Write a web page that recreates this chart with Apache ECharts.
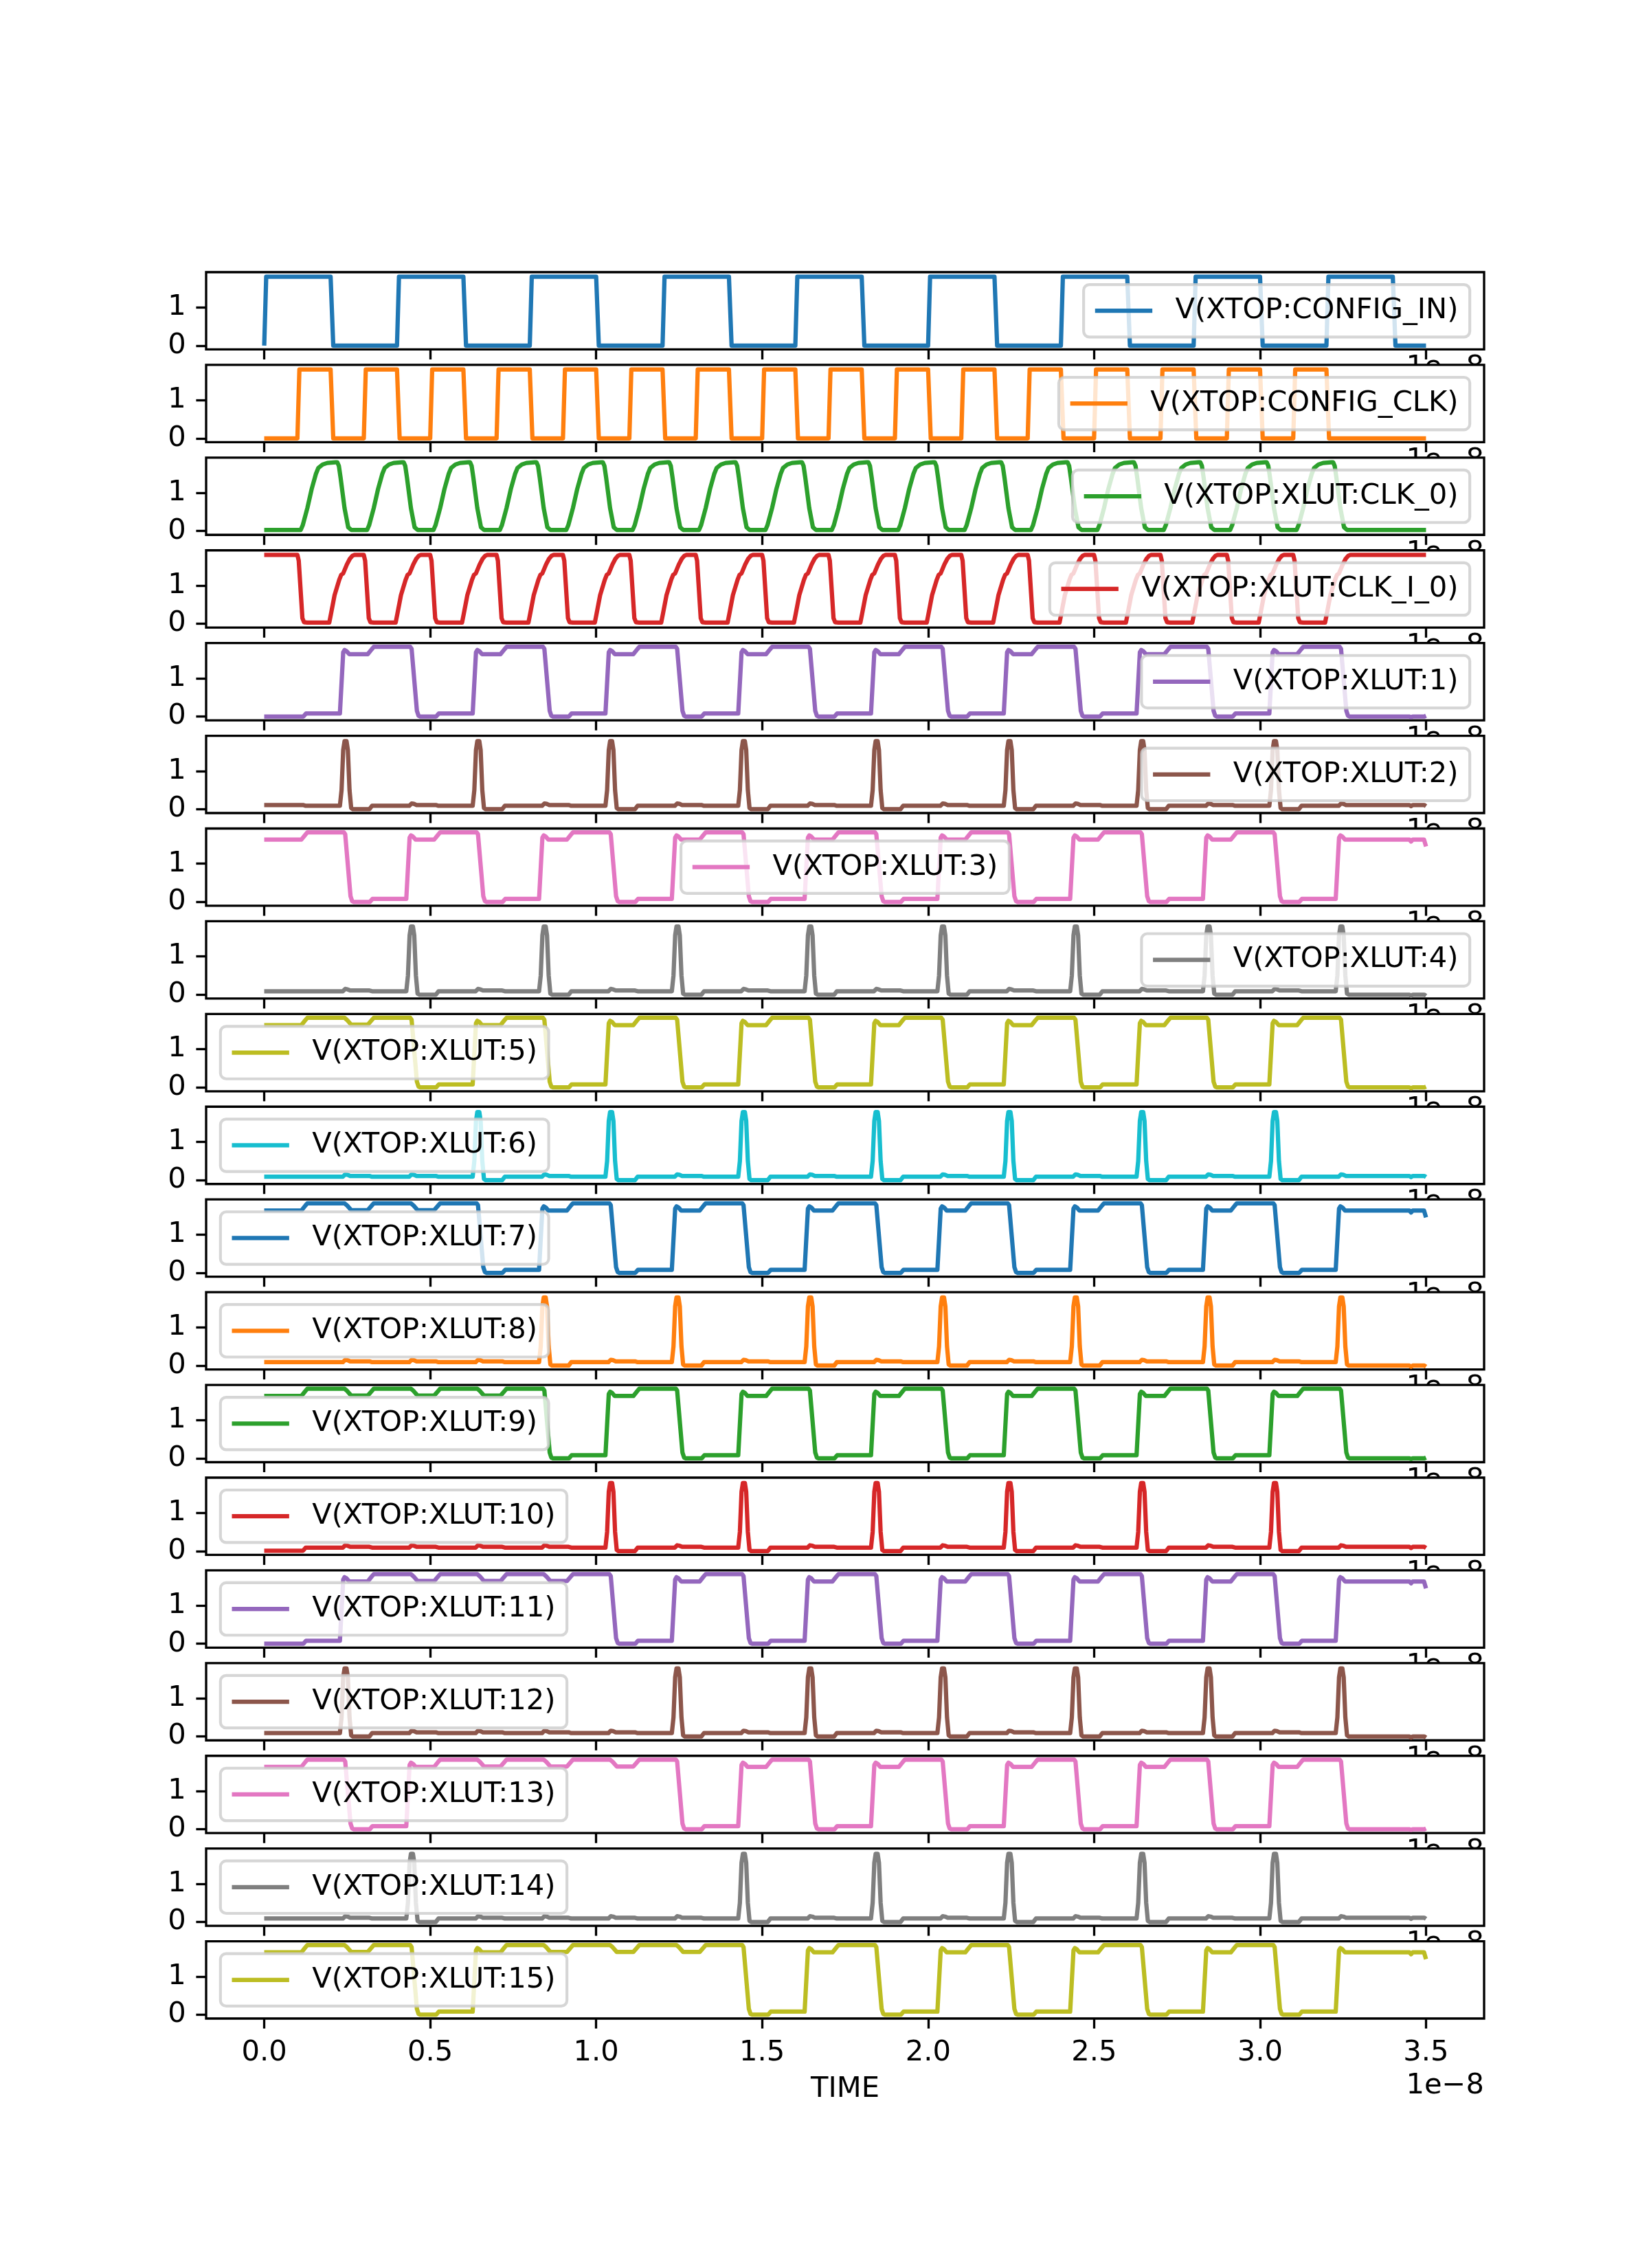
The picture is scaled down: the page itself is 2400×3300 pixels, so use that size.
<!DOCTYPE html>
<html><head><meta charset="utf-8">
<script src="https://cdn.jsdelivr.net/npm/echarts@6/dist/echarts.min.js"></script>
<style>html,body{margin:0;padding:0;background:#fff}#c{width:2400px;height:3300px}</style>
</head><body><div id="c"></div>
<script>
// ---------------- data (times in ns; axis shows units of 1e-8 s) ----------------
const T_END = 35;
const X_TICKS = [0, 5, 10, 15, 20, 25, 30, 35];
const Y_TICKS = [0, 1];
const NAMES = ['V(XTOP:CONFIG_IN)', 'V(XTOP:CONFIG_CLK)', 'V(XTOP:XLUT:CLK_0)', 'V(XTOP:XLUT:CLK_I_0)',
  'V(XTOP:XLUT:1)', 'V(XTOP:XLUT:2)', 'V(XTOP:XLUT:3)', 'V(XTOP:XLUT:4)', 'V(XTOP:XLUT:5)',
  'V(XTOP:XLUT:6)', 'V(XTOP:XLUT:7)', 'V(XTOP:XLUT:8)', 'V(XTOP:XLUT:9)', 'V(XTOP:XLUT:10)',
  'V(XTOP:XLUT:11)', 'V(XTOP:XLUT:12)', 'V(XTOP:XLUT:13)', 'V(XTOP:XLUT:14)', 'V(XTOP:XLUT:15)'];
const COLORS = ['#1f77b4', '#ff7f0e', '#2ca02c', '#d62728', '#9467bd', '#8c564b', '#e377c2', '#7f7f7f',
  '#bcbd22', '#17becf', '#1f77b4', '#ff7f0e', '#2ca02c', '#d62728', '#9467bd', '#8c564b', '#e377c2',
  '#7f7f7f', '#bcbd22'];
const LEGEND_LOC = ['cr', 'cr', 'cr', 'cr', 'cr', 'cr', 'c', 'cr', 'cl', 'cl', 'cl', 'cl', 'cl', 'cl',
  'cl', 'cl', 'cl', 'cl', 'cl'];

// digital sources
const CONFIG_IN_RISE = [0, 4, 8, 12, 16, 20, 24, 28, 32];
const CONFIG_IN_FALL = [2, 6, 10, 14, 18, 22, 26, 30, 34];
const CONFIG_CLK_RISE = [1, 3, 5, 7, 9, 11, 13, 15, 17, 19, 21, 23, 25, 27, 29, 31];
const CONFIG_CLK_FALL = [2, 4, 6, 8, 10, 12, 14, 16, 18, 20, 22, 24, 26, 28, 30, 32];
// buffered clocks
const CLK0_RISE = [1.1, 3.1, 5.1, 7.1, 9.1, 11.1, 13.1, 15.1, 17.1, 19.1, 21.1, 23.1, 25.1, 27.1, 29.1, 31.1];
const CLK0_FALL = [2.2, 4.2, 6.2, 8.2, 10.2, 12.2, 14.2, 16.2, 18.2, 20.2, 22.2, 24.2, 26.2, 28.2, 30.2, 32.2];
const CLKI0_FALL = [1, 3, 5, 7, 9, 11, 13, 15, 17, 19, 21, 23, 25, 27, 29, 31];
const CLKI0_RISE = [1.96, 3.96, 5.96, 7.96, 9.96, 11.96, 13.96, 15.96, 17.96, 19.96, 21.96, 23.96, 25.96, 27.96, 29.96, 31.96];
// settle steps and clock events seen on the LUT nodes
const STEP_TIMES = [1.2, 3.2, 5.2, 7.2, 9.2, 11.2, 13.2, 15.2, 17.2, 19.2, 21.2, 23.2, 25.2, 27.2, 29.2, 31.2];
const CLOCK_EVENTS = [2.42, 4.42, 6.42, 8.42, 10.42, 12.42, 14.42, 16.42, 18.42, 20.42, 22.42, 24.42, 26.42, 28.42, 30.42, 32.42];

// odd LUT nodes: initial state, rising edges, falling edges, dips (re-clocked while high)
const LUT1 = { init: 'L', rise: [2.28, 6.28, 10.28, 14.28, 18.28, 22.28, 26.28, 30.28], fall: [4.4, 8.4, 12.4, 16.4, 20.4, 24.4, 28.4, 32.4], dip: [] };
const LUT3 = { init: 'H', rise: [4.28, 8.28, 12.28, 16.28, 20.28, 24.28, 28.28, 32.28], fall: [2.4, 6.4, 10.4, 14.4, 18.4, 22.4, 26.4, 30.4], dip: [] };
const LUT5 = { init: 'H', rise: [6.28, 10.28, 14.28, 18.28, 22.28, 26.28, 30.28], fall: [4.4, 8.4, 12.4, 16.4, 20.4, 24.4, 28.4, 32.4], dip: [2.42] };
const LUT7 = { init: 'H', rise: [8.28, 12.28, 16.28, 20.28, 24.28, 28.28, 32.28], fall: [6.4, 10.4, 14.4, 18.4, 22.4, 26.4, 30.4], dip: [2.42, 4.42] };
const LUT9 = { init: 'H', rise: [10.28, 14.28, 18.28, 22.28, 26.28, 30.28], fall: [8.4, 12.4, 16.4, 20.4, 24.4, 28.4, 32.4], dip: [2.42, 4.42, 6.42] };
const LUT11 = { init: 'L', rise: [2.28, 12.28, 16.28, 20.28, 24.28, 28.28, 32.28], fall: [10.4, 14.4, 18.4, 22.4, 26.4, 30.4], dip: [4.42, 6.42, 8.42] };
const LUT13 = { init: 'H', rise: [4.28, 14.28, 18.28, 22.28, 26.28, 30.28], fall: [2.4, 12.4, 16.4, 20.4, 24.4, 28.4, 32.4], dip: [6.42, 8.42, 10.42] };
const LUT15 = { init: 'H', rise: [6.28, 16.28, 20.28, 24.28, 28.28, 32.28], fall: [4.4, 14.4, 18.4, 22.4, 26.4, 30.4], dip: [2.42, 8.42, 10.42, 12.42] };
// even LUT nodes: initial level and spike peak times
const LUT2 = { init: 0.11, spikes: [2.45, 6.45, 10.45, 14.45, 18.45, 22.45, 26.45, 30.45] };
const LUT4 = { init: 0.09, spikes: [4.45, 8.45, 12.45, 16.45, 20.45, 24.45, 28.45, 32.45] };
const LUT6 = { init: 0.09, spikes: [6.45, 10.45, 14.45, 18.45, 22.45, 26.45, 30.45] };
const LUT8 = { init: 0.09, spikes: [8.45, 12.45, 16.45, 20.45, 24.45, 28.45, 32.45] };
const LUT10 = { init: 0.01, spikes: [10.45, 14.45, 18.45, 22.45, 26.45, 30.45] };
const LUT12 = { init: 0.09, spikes: [2.45, 12.45, 16.45, 20.45, 24.45, 28.45, 32.45] };
const LUT14 = { init: 0.09, spikes: [4.45, 14.45, 18.45, 22.45, 26.45, 30.45] };

// waveform shapes: [offset ns, volts] (null = keep current level)
const DIG_RISE = [[0, null], [0.06, 1.8]];
const DIG_FALL = [[0, null], [0.08, 0]];
const CLK0_RISE_SHAPE = [[0, null], [0.06, 0.15], [0.2, 0.6], [0.33, 1.1], [0.46, 1.5], [0.53, 1.65], [0.66, 1.74], [0.8, 1.78], [1.05, 1.8]];
const CLK0_FALL_SHAPE = [[0, null], [0.05, 1.7], [0.1, 1.4], [0.22, 0.6], [0.33, 0.1], [0.42, 0.03]];
const CLKI0_FALL_SHAPE = [[0, null], [0.04, 1.65], [0.15, 0.15], [0.2, 0.04], [0.3, 0.03]];
const CLKI0_RISE_SHAPE = [[0, null], [0.05, 0.25], [0.16, 0.75], [0.3, 1.15], [0.36, 1.28], [0.42, 1.32], [0.53, 1.55], [0.62, 1.7], [0.7, 1.78], [0.76, 1.8]];
const REG_RISE = [[0, null], [0.1, 1.68], [0.14, 1.74], [0.2, 1.71], [0.28, 1.63]];
const REG_FALL = [[0, null], [0.04, 1.77], [0.2, 0.15], [0.25, 0.02], [0.3, 0.0]];
const REG_DIP = [[0, null], [0.08, 1.76], [0.2, 1.64]];
const HIGH_STEP = [[-0.08, null], [0.04, 1.76], [0.1, 1.82]];
const LOW_STEP = [[-0.02, null], [0.06, 0.08]];
const SPIKE_SHAPE = [[-0.17, null], [-0.12, 0.5], [-0.07, 1.55], [-0.03, 1.78], [0.03, 1.78], [0.07, 1.55], [0.12, 0.5], [0.17, 0.03], [0.22, 0.0]];
const BUMP_SHAPE = [[-0.05, null], [0.02, 0.15], [0.09, 0.14], [0.17, 0.11]];
const BASE_STEP = [[-0.03, null], [0.05, 0.09]];
const HIGH_TAIL = [[34.5, 0], [34.55, -0.05], [34.6, 0], [34.94, 0], [35, -0.18]];
const LOW_TAIL = [[34.5, 0], [34.55, -0.02], [34.6, 0], [34.95, 0], [35, 0.02]];
const BASE_TAIL = [[34.5, 0], [34.55, -0.03], [34.6, 0], [34.95, 0], [35, -0.03]];

// ---------------- builders ----------------
function buildFromEvents(v0, events, tail) {
  events.sort((a, b) => a[0] - b[0]);
  let cur = v0;
  const pts = [[0, v0]];
  for (const [t, shape] of events) {
    for (const [dt, v] of shape) {
      const val = v === null ? cur : v;
      pts.push([+(t + dt).toFixed(4), val]);
      cur = val;
    }
  }
  if (tail) {
    const base = cur;
    for (const [t, d] of tail) pts.push([t, +(base + d).toFixed(4)]);
  } else {
    pts.push([T_END, cur]);
  }
  return pts;
}
function buildEdges(v0, rises, riseShape, falls, fallShape) {
  const ev = [];
  rises.forEach(t => ev.push([t, riseShape]));
  falls.forEach(t => ev.push([t, fallShape]));
  return buildFromEvents(v0, ev, null);
}
function buildRegister(r) {
  const ev = [];
  r.rise.forEach(t => ev.push([t, 'R']));
  r.fall.forEach(t => ev.push([t, 'F']));
  r.dip.forEach(t => ev.push([t, 'D']));
  STEP_TIMES.forEach(t => ev.push([t, 'S']));
  ev.sort((a, b) => a[0] - b[0]);
  let high = r.init === 'H';
  const shaped = [];
  for (const [t, k] of ev) {
    if (k === 'R') { shaped.push([t, REG_RISE]); high = true; }
    else if (k === 'F') { shaped.push([t, REG_FALL]); high = false; }
    else if (k === 'D') shaped.push([t, REG_DIP]);
    else shaped.push([t, high ? HIGH_STEP : LOW_STEP]);
  }
  return buildFromEvents(r.init === 'H' ? 1.63 : 0.0, shaped, high ? HIGH_TAIL : LOW_TAIL);
}
function buildSpikes(s) {
  const ev = [];
  s.spikes.forEach(t => ev.push([t, SPIKE_SHAPE]));
  CLOCK_EVENTS.forEach(t => { if (!s.spikes.some(p => Math.abs(p - t) < 0.2)) ev.push([t, BUMP_SHAPE]); });
  STEP_TIMES.forEach(t => ev.push([t, BASE_STEP]));
  return buildFromEvents(s.init, ev, BASE_TAIL);
}

const DATA = [
  buildEdges(0, CONFIG_IN_RISE, DIG_RISE, CONFIG_IN_FALL, DIG_FALL),
  buildEdges(0, CONFIG_CLK_RISE, DIG_RISE, CONFIG_CLK_FALL, DIG_FALL),
  buildEdges(0.03, CLK0_RISE, CLK0_RISE_SHAPE, CLK0_FALL, CLK0_FALL_SHAPE),
  buildEdges(1.8, CLKI0_RISE, CLKI0_RISE_SHAPE, CLKI0_FALL, CLKI0_FALL_SHAPE),
  buildRegister(LUT1), buildSpikes(LUT2), buildRegister(LUT3), buildSpikes(LUT4),
  buildRegister(LUT5), buildSpikes(LUT6), buildRegister(LUT7), buildSpikes(LUT8),
  buildRegister(LUT9), buildSpikes(LUT10), buildRegister(LUT11), buildSpikes(LUT12),
  buildRegister(LUT13), buildSpikes(LUT14), buildRegister(LUT15)
];

// ---------------- layout (matplotlib figure 8x11 in @300dpi) ----------------
const FS = 41.67, LW_AX = 3.33, TICK = 14.58, PAD = 14.58;
const AX_L = 300, AX_W = 1860, AX_TOP = 396, AX_H = 112.43, AX_GAP = 22.49;
const N = NAMES.length;
const FONT = 'DejaVu Sans';
const measure = (() => { const c = document.createElement('canvas').getContext('2d'); c.font = FS + 'px "' + FONT + '"'; return s => c.measureText(s).width; })();
const BORDERPAD = 0.4 * FS, HANDLE = 2.0 * FS, HPAD = 0.8 * FS;
const LEG_H = 2 * BORDERPAD + 43;

const grids = [], xAxes = [], yAxes = [], series = [], legends = [], graphics = [];
for (let i = 0; i < N; i++) {
  const top = AX_TOP + i * (AX_H + AX_GAP);
  grids.push({ left: AX_L, top: top, width: AX_W, height: AX_H, show: true, backgroundColor: '#fff',
    borderColor: '#000', borderWidth: LW_AX, containLabel: false, outerBoundsMode: 'none' });
  xAxes.push({ type: 'value', gridIndex: i, min: -1.75, max: 36.75, position: 'bottom',
    axisLine: { show: false, onZero: false }, splitLine: { show: false },
    axisTick: { show: true, inside: false, length: TICK, lineStyle: { color: '#000', width: LW_AX }, customValues: X_TICKS },
    axisLabel: { show: i === N - 1, customValues: X_TICKS, formatter: v => (v / 10).toFixed(1), margin: TICK + PAD,
      fontSize: FS, fontFamily: FONT, color: '#000' } });
  yAxes.push({ type: 'value', gridIndex: i, min: -0.1, max: 1.92, position: 'left',
    axisLine: { show: false, onZero: false }, splitLine: { show: false },
    axisTick: { show: true, inside: false, length: TICK, lineStyle: { color: '#000', width: LW_AX }, customValues: Y_TICKS },
    axisLabel: { show: true, customValues: Y_TICKS, formatter: v => String(v), margin: TICK + PAD,
      fontSize: FS, fontFamily: FONT, color: '#000' } });
  series.push({ type: 'line', name: NAMES[i], xAxisIndex: i, yAxisIndex: i, data: DATA[i],
    showSymbol: false, symbol: 'none', silent: true, animation: false, clip: true,
    lineStyle: { width: 6.25, color: COLORS[i], join: 'round', cap: 'butt' }, itemStyle: { color: COLORS[i] } });
  const boxW = 2 * BORDERPAD + HANDLE + HPAD + measure(NAMES[i]);
  const leg = { data: [NAMES[i]], orient: 'horizontal', icon: 'rect', itemWidth: HANDLE, itemHeight: 6.25,
    top: top + AX_H / 2 - LEG_H / 2, padding: [BORDERPAD, BORDERPAD, BORDERPAD, BORDERPAD],
    backgroundColor: 'rgba(255,255,255,0.8)', borderColor: 'rgba(204,204,204,0.8)', borderWidth: 4.17,
    borderRadius: 8.3, selectedMode: false,
    textStyle: { fontSize: FS, fontFamily: FONT, color: '#000', lineHeight: 43, padding: [0, 0, 0, HPAD - 5] } };
  if (LEGEND_LOC[i] === 'cr') leg.right = 2400 - (AX_L + AX_W) + 0.5 * FS;
  else if (LEGEND_LOC[i] === 'cl') leg.left = AX_L + 0.5 * FS;
  else leg.left = AX_L + AX_W / 2 - boxW / 2;
  legends.push(leg);
  const bottom = top + AX_H;
  const last = i === N - 1;
  graphics.push({ type: 'text', x: AX_L + AX_W, y: last ? bottom + 98 : bottom + 26.6, z: last ? 10 : -10, silent: true,
    style: { text: '1e\u22128', fontSize: FS, fontFamily: FONT, fill: '#000', align: 'right', verticalAlign: 'middle' } });
}
graphics.push({ type: 'text', x: AX_L + AX_W / 2, y: 3040, z: 10, silent: true,
  style: { text: 'TIME', fontSize: FS, fontFamily: FONT, fill: '#000', align: 'center', verticalAlign: 'middle' } });

const chart = echarts.init(document.getElementById('c'), null, { renderer: 'canvas', width: 2400, height: 3300 });
chart.setOption({
  animation: false, backgroundColor: '#fff',
  grid: grids, xAxis: xAxes, yAxis: yAxes, series: series, legend: legends, graphic: { elements: graphics }
});
</script></body></html>
